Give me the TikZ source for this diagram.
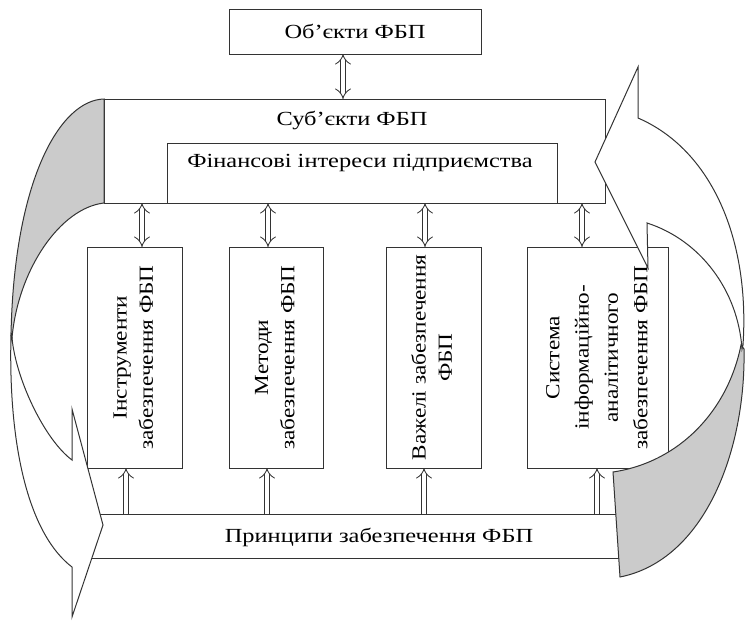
\documentclass[tikz,border=0pt]{standalone}
\usepackage{fontspec}
\setmainfont{Liberation Serif}
\usetikzlibrary{arrows.meta}
\definecolor{ribbongray}{HTML}{CBCBCB}
\newcommand{\hlab}[1]{\scalebox{1.22}[1]{#1}}
\newcommand{\vlab}[2][1.1]{\rotatebox{90}{\scalebox{1.16}[1]{\renewcommand{\arraystretch}{#1}\begin{tabular}{@{}c@{}}#2\end{tabular}}}}

\begin{document}
\begin{tikzpicture}[x=1pt, y=-1pt, font=\fontsize{20}{24}\selectfont,
    box/.style={draw=black!80, line width=1pt, fill=white, inner sep=0pt, outer sep=0pt},
    bothway/.style={draw=black!80, double, double distance=4.8pt, line width=0.85pt, {Implies}-{Implies}},
    upway/.style={draw=black!80, double, double distance=4.8pt, line width=0.85pt, -{Implies}},
    ribbon/.style={draw=black!80, line width=1pt, fill=white},
    back/.style={ribbon, fill=ribbongray}]
    \useasboundingbox (0,0) rectangle (748,622);

    \node[box, minimum width=252pt, minimum height=45pt] (obj) at (355,31.5) {\hlab{Об’єкти ФБП}};
    \node[box, minimum width=501pt, minimum height=104pt] (subj) at (354.5,151) {};
    \node (subjlab) at (352,120) {\hlab{Суб’єкти ФБП}};
    \node[box, minimum width=390pt, minimum height=60pt] (fin) at (362,173) {};
    \node (finlab) at (360,163) {\hlab{Фінансові інтереси підприємства}};

    \node[box, minimum width=95pt, minimum height=221pt] (instr) at (134.5,357.5) {\vlab{Інструменти\\забезпечення ФБП}};
    \node[box, minimum width=94pt, minimum height=221pt] (meth) at (276,357.5) {\vlab{Методи\\забезпечення ФБП}};
    \node[box, minimum width=95pt, minimum height=221pt] (lev) at (433.5,357.5) {\vlab{Важелі забезпечення\\ФБП}};
    \node[box, minimum width=141pt, minimum height=221pt] (sys) at (597.5,357.5) {\vlab[1.22]{Система\\інформаційно-\\аналітичного\\забезпечення ФБП}};

    \node[box, minimum width=560pt, minimum height=44pt] (princ) at (370,536) {};
    \node (princlab) at (379,537) {\hlab{Принципи забезпечення ФБП}};

    % links
    \draw[bothway] ([xshift=-12pt]obj.south) -- ([xshift=-12pt]obj.south |- subj.north);
    \draw[bothway] ([xshift=7.5pt]instr.north) -- ([xshift=7.5pt]instr.north |- subj.south);
    \draw[bothway] ([xshift=-8pt]meth.north) -- ([xshift=-8pt]meth.north |- subj.south);
    \draw[bothway] ([xshift=-8.5pt]lev.north) -- ([xshift=-8.5pt]lev.north |- subj.south);
    \draw[bothway] ([xshift=-15.5pt]sys.north) -- ([xshift=-15.5pt]sys.north |- subj.south);
    \draw[upway] ([xshift=-8.5pt]instr.south |- princ.north) -- ([xshift=-8.5pt]instr.south);
    \draw[upway] ([xshift=-9pt]meth.south |- princ.north) -- ([xshift=-9pt]meth.south);
    \draw[upway] ([xshift=-9.5pt]lev.south |- princ.north) -- ([xshift=-9.5pt]lev.south);
    \draw[upway] ([xshift=-0.5pt]sys.south |- princ.north) -- ([xshift=-0.5pt]sys.south);

    % left ribbon
    \draw[back] (104,99) .. controls (60,100) and (14,180) .. (11,335) -- (12,338) .. controls (18,270) and (60,208) .. (104,203) -- cycle;
    \draw[ribbon] (11,335) .. controls (8,450) and (30,535) .. (72,567) -- (72,617) -- (103,525) -- (72,409) -- (72,460) .. controls (45,440) and (16,380) .. (12,338) -- cycle;

    % right ribbon
    \draw[back] (613,472) .. controls (680,462) and (728,410) .. (741,345) -- (744,349) .. controls (746,450) and (705,560) .. (620,577) -- cycle;
    \draw[ribbon] (743,345) .. controls (750,240) and (712,150) .. (638,118) -- (638,67) -- (595,162) -- (648,268) -- (647,223) .. controls (700,240) and (738,290) .. (742,349) -- cycle;
\end{tikzpicture}
\end{document}
